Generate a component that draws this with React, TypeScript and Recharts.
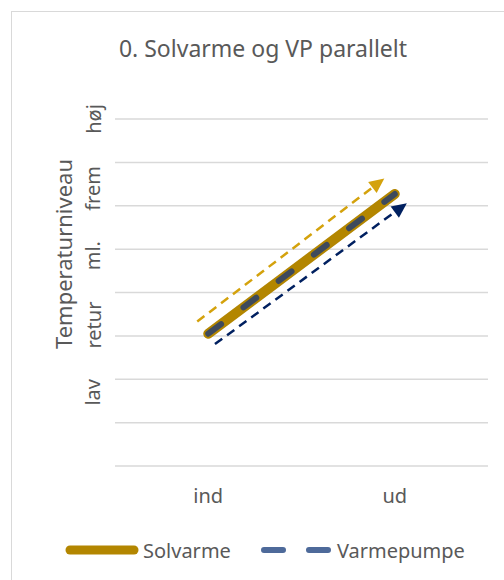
import { LineChart, Line, XAxis, YAxis, CartesianGrid, ReferenceLine, Legend } from "recharts";

const categories = ["ind", "ud"];
const solvarme = [3.05, 6.27];
const varmepumpe = [3.05, 6.27];
const gridTicks = [0, 1, 2, 3, 4, 5, 6, 7, 8];
const levelPos = [1.7, 3.25, 4.85, 6.4, 8.0];
const levelLabels = ["lav", "retur", "ml.", "frem", "høj"];
const solArrow = [{ x: 0.441, y: 3.33 }, { x: 1.444, y: 6.63 }];
const vpArrow = [{ x: 0.536, y: 2.81 }, { x: 1.565, y: 6.06 }];

const FONT = "'Noto Sans', sans-serif";
const TXT = "#595959";
const GOLD = "#B38600";
const VP = "#3E4A5C";
const VP_LEGEND = "#4E6A9A";

// categories sit at the middle of equal slots: 0.5, 1.5
const data = categories.map((c, i) => ({ pos: i + 0.5, cat: c, Solvarme: solvarme[i], Varmepumpe: varmepumpe[i] }));
const catTicks = data.map((d) => d.pos);

function arrowShape(color: string) {
  return (p: any) => {
    const { x1, y1, x2, y2 } = p;
    const dx = x2 - x1, dy = y2 - y1;
    const len = Math.sqrt(dx * dx + dy * dy);
    const ux = dx / len, uy = dy / len;
    const hl = 15, hw = 7;
    const bx = x2 - ux * hl, by = y2 - uy * hl;
    const pts = `${x2},${y2} ${bx - uy * hw},${by + ux * hw} ${bx + uy * hw},${by - ux * hw}`;
    return (
      <g>
        <line x1={x1} y1={y1} x2={bx + ux * 2} y2={by + uy * 2} stroke={color} strokeWidth={2.5} strokeDasharray="9 6" />
        <polygon points={pts} fill={color} />
      </g>
    );
  };
}

function LevelTick(props: any) {
  const { y, payload } = props;
  const i = levelPos.indexOf(payload.value);
  const x = 93;
  return (
    <text x={x} y={y} transform={`rotate(-90, ${x}, ${y})`} textAnchor="middle" dominantBaseline="central"
      fill={TXT} fontSize={20} fontFamily={FONT}>
      {levelLabels[i]}
    </text>
  );
}

function LegendContent() {
  return (
    <div style={{ display: "flex", alignItems: "center", paddingLeft: 65, fontFamily: FONT, fontSize: 20, color: TXT, height: 30 }}>
      <svg width={74} height={12}>
        <line x1={5} y1={6} x2={69} y2={6} stroke={GOLD} strokeWidth={9} strokeLinecap="round" />
      </svg>
      <span style={{ marginLeft: 4 }}>Solvarme</span>
      <svg width={70} height={12} style={{ marginLeft: 30 }}>
        <line x1={3} y1={6} x2={67} y2={6} stroke={VP_LEGEND} strokeWidth={6} strokeLinecap="round" strokeDasharray="19 26" />
      </svg>
      <span style={{ marginLeft: 6 }}>Varmepumpe</span>
    </div>
  );
}

export default function App() {
  return (
    <div style={{ position: "absolute", left: 0, top: 0, width: 504, height: 580, background: "#fff" }}>
      <div style={{ position: "absolute", left: 11, top: 11, width: 493, height: 569, borderLeft: "1px solid #d9d9d9", borderTop: "1px solid #d9d9d9" }} />
      <div style={{ position: "absolute", left: 0, top: 0 }}>
        <LineChart width={504} height={580} data={data} margin={{ top: 119, right: 16, left: 0, bottom: 15 }}>
          <text x={263} y={57} textAnchor="middle" fill={TXT} fontSize={23} fontFamily={FONT}>
            0. Solvarme og VP parallelt
          </text>
          <text x={63} y={254} transform="rotate(-90, 63, 254)" textAnchor="middle" dominantBaseline="central"
            fill={TXT} fontSize={22} fontFamily={FONT}>
            Temperaturniveau
          </text>
          <CartesianGrid vertical={false} stroke="#d9d9d9" strokeWidth={1.5} />
          <XAxis dataKey="pos" type="number" domain={[0, 2]} ticks={catTicks} allowDataOverflow
            tickFormatter={(v: number) => categories[Math.floor(v)]}
            axisLine={false} tickLine={false} height={69} tickMargin={17}
            tick={{ fill: TXT, fontSize: 20, fontFamily: FONT }} />
          <YAxis domain={[0, 8]} ticks={gridTicks} hide allowDataOverflow />
          <YAxis yAxisId="lbl" width={115} domain={[0, 8]} ticks={levelPos} allowDataOverflow
            axisLine={false} tickLine={false} tick={LevelTick} interval={0} />
          <ReferenceLine segment={solArrow} shape={arrowShape("#D4A20C")} ifOverflow="visible" />
          <ReferenceLine segment={vpArrow} shape={arrowShape("#002060")} ifOverflow="visible" />
          <Line dataKey="Solvarme" stroke={GOLD} strokeWidth={10} strokeLinecap="round" dot={false} activeDot={false} isAnimationActive={false} />
          <Line dataKey="Varmepumpe" stroke={VP} strokeWidth={6} strokeLinecap="round" strokeDasharray="16 28" dot={false} activeDot={false} isAnimationActive={false} />
          <Legend verticalAlign="bottom" height={30} content={<LegendContent />} />
        </LineChart>
      </div>
    </div>
  );
}
